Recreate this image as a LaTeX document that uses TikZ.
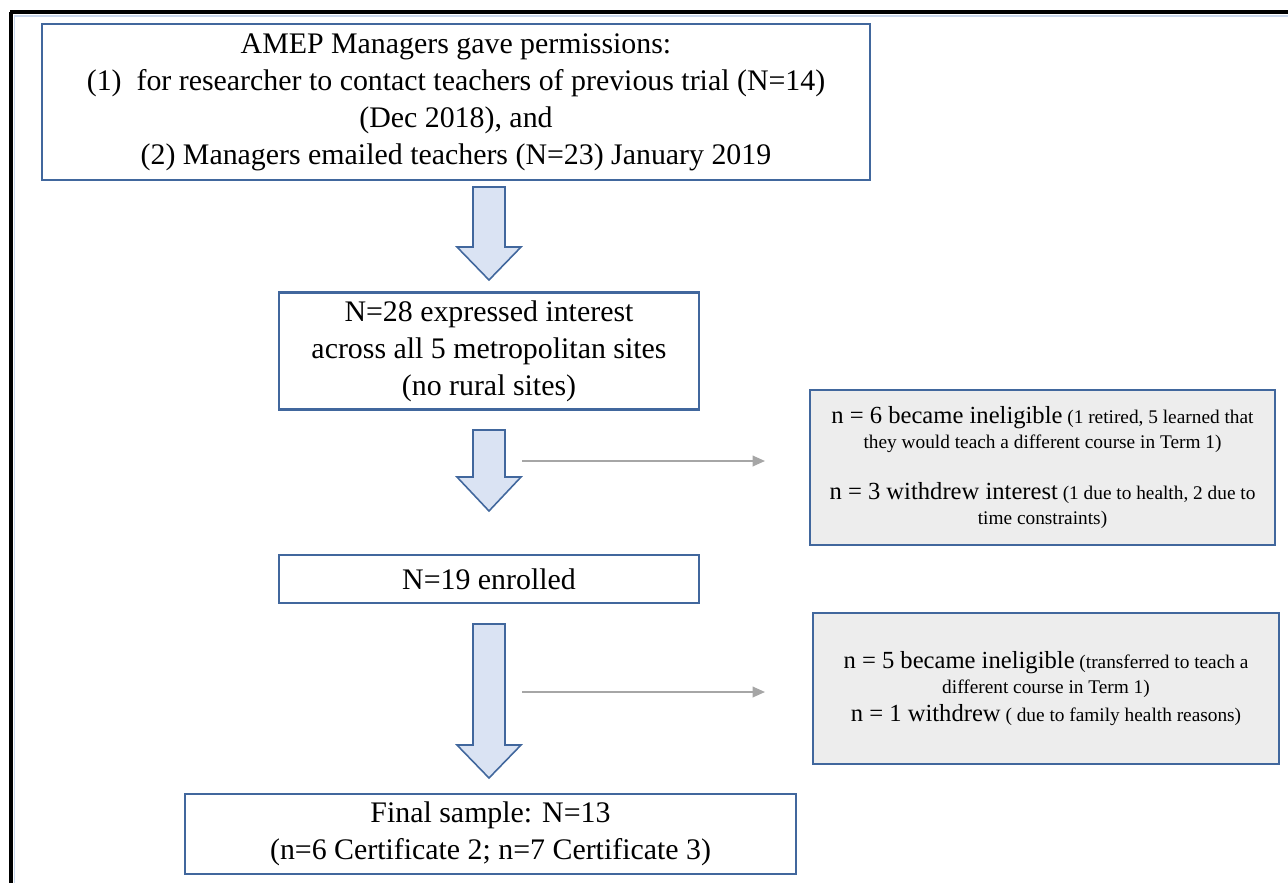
\documentclass[tikz,border=0pt]{standalone}
\usepackage{fontspec}
\setmainfont{LiberationSerif}[Extension=.ttf, UprightFont=*-Regular, BoldFont=*-Bold, ItalicFont=*-Italic]
\usetikzlibrary{arrows.meta,positioning}
\definecolor{boxblue}{HTML}{41679D}
\definecolor{arrowfill}{HTML}{DAE3F3}
\definecolor{notegray}{HTML}{EDEDED}
\definecolor{linegray}{HTML}{A6A6A6}
\definecolor{pageblue}{HTML}{C9D7EC}
\newcommand{\bigpart}[1]{{\fontsize{14}{16}\selectfont #1}}
\tikzset{
  stagebox/.style={draw=boxblue, line width=1.2pt, align=center, inner sep=0pt,
    font=\fontsize{17}{21}\selectfont},
  notebox/.style={draw=boxblue, fill=notegray, line width=1.2pt, align=center, inner sep=0pt,
    font=\fontsize{11}{14}\selectfont},
  blockarrow/.style={draw=boxblue, fill=arrowfill, line width=0.9pt, line join=miter},
  sidearrow/.style={draw=linegray, line width=1pt, -{Triangle[length=7pt,width=6pt]}}
}
\begin{document}
\begin{tikzpicture}[x=0.02cm,y=-0.02cm]
\useasboundingbox (0,0) rectangle (1288,883);
% page frame
\draw[pageblue, line width=1pt] (14,16) -- (1288,16);
\draw[pageblue, line width=1pt] (14.5,16) -- (14.5,883);
\draw[black, line width=1.8pt] (10,12) -- (1288,12);
\draw[black, line width=1.8pt] (11,12) -- (11,883);
% stages
\node[stagebox, minimum width=16.56cm, minimum height=3.12cm] (perm) at (456,102)
  {AMEP Managers gave permissions:\\
   (1)\ \ for researcher to contact teachers of previous trial (N=14)\\
   (Dec 2018), and\\
   (2) Managers emailed teachers (N=23) January 2019};
\node[stagebox, minimum width=8.4cm, minimum height=2.34cm] (interest) at (489,351)
  {N=28 expressed interest\\ across all 5 metropolitan sites\\ (no rural sites)};
\node[stagebox, minimum width=8.4cm, minimum height=0.96cm] (enrol) at (489,579)
  {N=19 enrolled};
\node[stagebox, minimum width=12.22cm, minimum height=1.6cm] (final) at (490.5,834)
  {Final sample: N=13\\ (n=6 Certificate 2; n=7 Certificate 3)};
% exclusions
\node[notebox, minimum width=9.3cm, minimum height=3.1cm] (lossA) at (1042.5,467.5)
  {\bigpart{n = 6 became ineligible} (1 retired, 5 learned that\\
   they would teach a different course in Term 1)\\[15pt]
   \bigpart{n = 3 withdrew interest} (1 due to health, 2 due to\\
   time constraints)};
\node[notebox, minimum width=9.32cm, minimum height=3.02cm] (lossB) at (1046,688.5)
  {\bigpart{n = 5 became ineligible} (transferred to teach a\\
   different course in Term 1)\\[2pt]
   \bigpart{n = 1 withdrew} ( due to family health reasons)};
% block arrows
\foreach \yt/\yh/\yb in {187/247/280, 430/477/511, 624/745/778}
  \draw[blockarrow] (473,\yt) -- (505,\yt) -- (505,\yh) -- (521,\yh) -- (489,\yb)
    -- (457,\yh) -- (473,\yh) -- cycle;
% side arrows
\coordinate (outA) at (522,461);
\coordinate (outB) at (522,692);
\draw[sidearrow] (outA) -- (outA -| 765,0);
\draw[sidearrow] (outB) -- (outB -| 765,0);
\end{tikzpicture}
\end{document}
